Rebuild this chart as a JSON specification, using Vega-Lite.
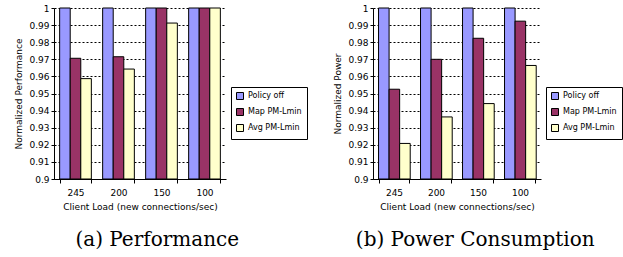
{
  "$schema": "https://vega.github.io/schema/vega-lite/v6.json",
  "background": "white",
  "padding": {"left": 14, "top": 4, "right": 0, "bottom": 0},
  "spacing": 25,
  "config": {
    "font": "DejaVu Sans",
    "view": {"stroke": null},
    "axis": {
      "labelFont": "DejaVu Sans", "labelFontSize": 9, "labelColor": "black",
      "titleFont": "DejaVu Sans", "titleFontSize": 9, "titleFontWeight": "normal", "titleColor": "black",
      "domainColor": "black", "tickColor": "black", "tickSize": 4
    },
    "legend": {
      "labelFont": "DejaVu Sans", "labelFontSize": 8, "labelColor": "black",
      "symbolType": "square", "symbolSize": 49, "symbolStrokeColor": "black", "symbolStrokeWidth": 1,
      "strokeColor": "black", "strokeWidth": 1, "padding": 5, "rowPadding": 4, "labelOffset": 4, "cornerRadius": 0
    },
    "title": {
      "font": "DejaVu Serif", "fontSize": 20, "fontWeight": "normal", "color": "black",
      "orient": "bottom", "anchor": "middle", "frame": "bounds", "offset": 19
    }
  },
  "datasets": {
    "perf": [
      {"load": "245", "policy": "Policy off", "value": 1},
      {"load": "245", "policy": "Map PM-Lmin", "value": 0.9706},
      {"load": "245", "policy": "Avg PM-Lmin", "value": 0.9587},
      {"load": "200", "policy": "Policy off", "value": 1},
      {"load": "200", "policy": "Map PM-Lmin", "value": 0.9715},
      {"load": "200", "policy": "Avg PM-Lmin", "value": 0.9643},
      {"load": "150", "policy": "Policy off", "value": 1},
      {"load": "150", "policy": "Map PM-Lmin", "value": 1},
      {"load": "150", "policy": "Avg PM-Lmin", "value": 0.9912},
      {"load": "100", "policy": "Policy off", "value": 1},
      {"load": "100", "policy": "Map PM-Lmin", "value": 1},
      {"load": "100", "policy": "Avg PM-Lmin", "value": 1}
    ],
    "power": [
      {"load": "245", "policy": "Policy off", "value": 1},
      {"load": "245", "policy": "Map PM-Lmin", "value": 0.9525},
      {"load": "245", "policy": "Avg PM-Lmin", "value": 0.9208},
      {"load": "200", "policy": "Policy off", "value": 1},
      {"load": "200", "policy": "Map PM-Lmin", "value": 0.970},
      {"load": "200", "policy": "Avg PM-Lmin", "value": 0.9363},
      {"load": "150", "policy": "Policy off", "value": 1},
      {"load": "150", "policy": "Map PM-Lmin", "value": 0.9823},
      {"load": "150", "policy": "Avg PM-Lmin", "value": 0.9441},
      {"load": "100", "policy": "Policy off", "value": 1},
      {"load": "100", "policy": "Map PM-Lmin", "value": 0.9923},
      {"load": "100", "policy": "Avg PM-Lmin", "value": 0.9664}
    ]
  },
  "hconcat": [
    {
      "width": 172, "height": 171,
      "data": {"name": "perf"},
      "title": {"text": "(a) Performance", "dx": -4},
      "mark": {"type": "bar", "stroke": "black", "strokeWidth": 1},
      "encoding": {
        "x": {"field": "load", "type": "nominal", "sort": ["245", "200", "150", "100"],
          "scale": {"paddingInner": 0.263, "paddingOuter": 0.1315},
          "axis": {"title": "Client Load (new connections/sec)", "labelAngle": 0, "tickBand": "extent", "grid": false, "labelPadding": 5, "titlePadding": 5}},
        "xOffset": {"field": "policy", "type": "nominal", "sort": ["Policy off", "Map PM-Lmin", "Avg PM-Lmin"]},
        "y": {"field": "value", "type": "quantitative",
          "scale": {"domain": [0.9, 1], "zero": false, "nice": false},
          "axis": {"title": "Normalized Performance", "values": [0.9, 0.91, 0.92, 0.93, 0.94, 0.95, 0.96, 0.97, 0.98, 0.99, 1], "format": ".2~f",
            "grid": true, "gridColor": "black", "gridDash": [2, 2], "tickSize": 3, "labelPadding": 2, "titlePadding": 5}},
        "y2": {"datum": 0.9},
        "color": {"field": "policy", "type": "nominal", "sort": ["Policy off", "Map PM-Lmin", "Avg PM-Lmin"],
          "scale": {"domain": ["Policy off", "Map PM-Lmin", "Avg PM-Lmin"], "range": ["#9999FF", "#993366", "#FFFFCC"]},
          "legend": {"title": null, "orient": "none", "legendX": 177, "legendY": 79}}
      }
    },
    {
      "width": 168, "height": 171,
      "data": {"name": "power"},
      "title": {"text": "(b) Power Consumption", "dx": -3},
      "mark": {"type": "bar", "stroke": "black", "strokeWidth": 1},
      "encoding": {
        "x": {"field": "load", "type": "nominal", "sort": ["245", "200", "150", "100"],
          "scale": {"paddingInner": 0.263, "paddingOuter": 0.1315},
          "axis": {"title": "Client Load (new connections/sec)", "labelAngle": 0, "tickBand": "extent", "grid": false, "labelPadding": 5, "titlePadding": 5}},
        "xOffset": {"field": "policy", "type": "nominal", "sort": ["Policy off", "Map PM-Lmin", "Avg PM-Lmin"]},
        "y": {"field": "value", "type": "quantitative",
          "scale": {"domain": [0.9, 1], "zero": false, "nice": false},
          "axis": {"title": "Normalized Power", "values": [0.9, 0.91, 0.92, 0.93, 0.94, 0.95, 0.96, 0.97, 0.98, 0.99, 1], "format": ".2~f",
            "grid": true, "gridColor": "black", "gridDash": [2, 2], "tickSize": 3, "labelPadding": 2, "titlePadding": 5}},
        "y2": {"datum": 0.9},
        "color": {"field": "policy", "type": "nominal", "sort": ["Policy off", "Map PM-Lmin", "Avg PM-Lmin"],
          "scale": {"domain": ["Policy off", "Map PM-Lmin", "Avg PM-Lmin"], "range": ["#9999FF", "#993366", "#FFFFCC"]},
          "legend": {"title": null, "orient": "none", "legendX": 173, "legendY": 79}}
      }
    }
  ],
  "resolve": {"scale": {"color": "independent", "x": "independent", "y": "independent"}, "legend": {"color": "independent"}}
}
